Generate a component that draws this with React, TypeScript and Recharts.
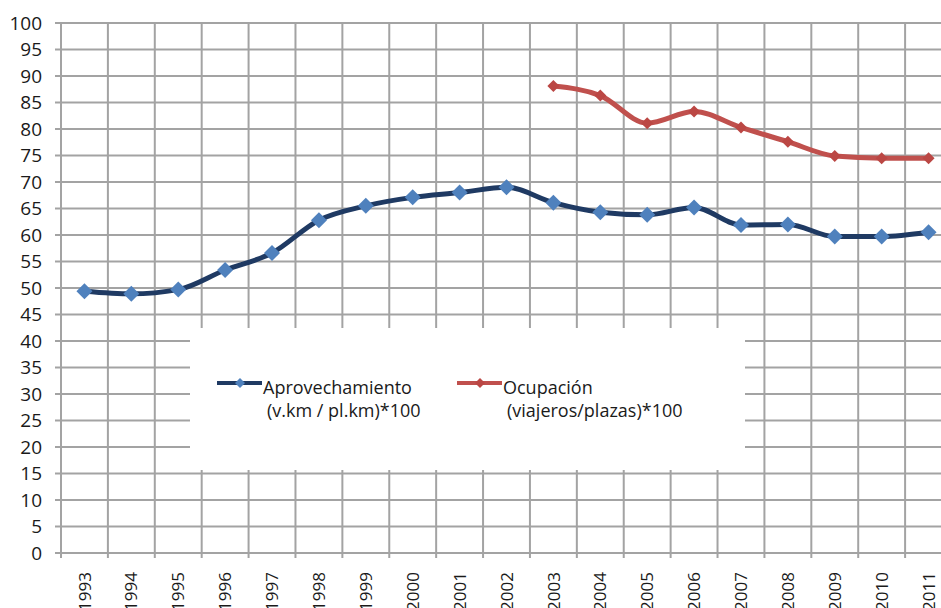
import React from 'react';
import { LineChart, Line, XAxis, YAxis, CartesianGrid, Legend } from 'recharts';

const years = [1993, 1994, 1995, 1996, 1997, 1998, 1999, 2000, 2001, 2002, 2003, 2004, 2005, 2006, 2007, 2008, 2009, 2010, 2011];
const aprovechamiento = [49.4, 48.9, 49.7, 53.4, 56.6, 62.8, 65.5, 67.1, 68.0, 69.0, 66.1, 64.3, 63.8, 65.2, 61.9, 62.0, 59.7, 59.7, 60.5];
const ocupacion = [null, null, null, null, null, null, null, null, null, null, 88.1, 86.3, 81.1, 83.3, 80.3, 77.6, 74.9, 74.5, 74.5];
const yTicks = [0, 5, 10, 15, 20, 25, 30, 35, 40, 45, 50, 55, 60, 65, 70, 75, 80, 85, 90, 95, 100];
const seriesNames = ['Aprovechamiento', 'Ocupación'];
const seriesUnits = ['(v.km / pl.km)*100', '(viajeros/plazas)*100'];

const data = years.map((year, i) => ({ year, aprovechamiento: aprovechamiento[i], ocupacion: ocupacion[i] }));
// grid lines sit between the years, like Excel's "between tick marks"
const boundaries = [...years.map(y => y - 0.5), years[years.length - 1] + 0.5];
const domain = [boundaries[0], boundaries[boundaries.length - 1]];

const GRID = '#a3a3a3';
const BLUE_LINE = '#1f3a63';
const BLUE_DOT = '#4f81bd';
const RED_LINE = '#c0504d';
const RED_DOT = '#bb4744';
const FONT = '"Open Sans", sans-serif';

const Diamond = ({ cx, cy, r, fill }: any) => {
  if (cx == null || cy == null) return <g />;
  return <polygon points={`${cx},${cy - r} ${cx + r},${cy} ${cx},${cy + r} ${cx - r},${cy}`} fill={fill} />;
};

const YearTick = ({ x, y, payload }: any) => (
  <text
    x={x}
    y={y}
    transform={`rotate(-90 ${x} ${y})`}
    textAnchor="end"
    dy="0.36em"
    fontSize={17}
    fontFamily={FONT}
    fill="#1a1a1a"
  >
    {payload.value}
  </text>
);

const renderLegend = () => {
  const items = [
    { x: 27, line: BLUE_LINE, dot: BLUE_DOT },
    { x: 267, line: RED_LINE, dot: RED_DOT },
  ];
  return (
    <svg width={555} height={142}>
      {items.map((it, i) => (
        <g key={i}>
          <line x1={it.x} x2={it.x + 45} y1={55} y2={55} stroke={it.line} strokeWidth={4} />
          <Diamond cx={it.x + 23} cy={55} r={5} fill={it.dot} />
          <text x={it.x + 46} y={66} fontSize={18} fontFamily={FONT} fill="#1a1a1a">{seriesNames[i]}</text>
          <text x={it.x + 50} y={89} fontSize={18} fontFamily={FONT} fill="#1a1a1a">{seriesUnits[i]}</text>
        </g>
      ))}
    </svg>
  );
};

export default function App() {
  return (
    <div style={{ position: 'fixed', left: 0, top: 0, width: 941, height: 608, overflow: 'hidden', background: '#fff' }}>
      <LineChart width={952} height={619} data={data} margin={{ top: 23, right: 0, bottom: 0, left: 0 }}>
        <CartesianGrid
          xAxisId="grid"
          stroke={GRID}
          strokeWidth={2}
          verticalValues={boundaries}
          horizontalValues={yTicks}
        />
        <XAxis
          xAxisId="grid"
          dataKey="year"
          type="number"
          domain={domain}
          ticks={boundaries}
          tickFormatter={() => ''}
          tickSize={5}
          height={6}
          axisLine={{ stroke: GRID, strokeWidth: 2 }}
          tickLine={{ stroke: GRID, strokeWidth: 2 }}
        />
        <XAxis
          xAxisId="label"
          dataKey="year"
          type="number"
          domain={domain}
          ticks={years}
          tick={<YearTick />}
          tickSize={0}
          tickMargin={13}
          height={60}
          axisLine={false}
          tickLine={false}
        />
        <YAxis
          domain={[0, 100]}
          ticks={yTicks}
          width={61}
          tickSize={6}
          tickMargin={13}
          axisLine={{ stroke: GRID, strokeWidth: 2 }}
          tickLine={{ stroke: GRID, strokeWidth: 2 }}
          tick={{ fontSize: 19, fill: '#1a1a1a', fontFamily: FONT }}
          interval={0}
        />
        <Legend
          verticalAlign="middle"
          align="center"
          layout="horizontal"
          wrapperStyle={{ left: 190, top: 328, width: 555, height: 142, background: '#fff' }}
          content={renderLegend}
        />
        <Line
          xAxisId="label"
          type="monotone"
          dataKey="aprovechamiento"
          stroke={BLUE_LINE}
          strokeWidth={5}
          dot={(p: any) => <Diamond key={`a${p.index}`} cx={p.cx} cy={p.cy} r={8} fill={BLUE_DOT} />}
          activeDot={false}
          isAnimationActive={false}
        />
        <Line
          xAxisId="label"
          type="monotone"
          dataKey="ocupacion"
          stroke={RED_LINE}
          strokeWidth={5}
          dot={(p: any) => <Diamond key={`o${p.index}`} cx={p.cx} cy={p.cy} r={6} fill={RED_DOT} />}
          activeDot={false}
          isAnimationActive={false}
        />
      </LineChart>
    </div>
  );
}
